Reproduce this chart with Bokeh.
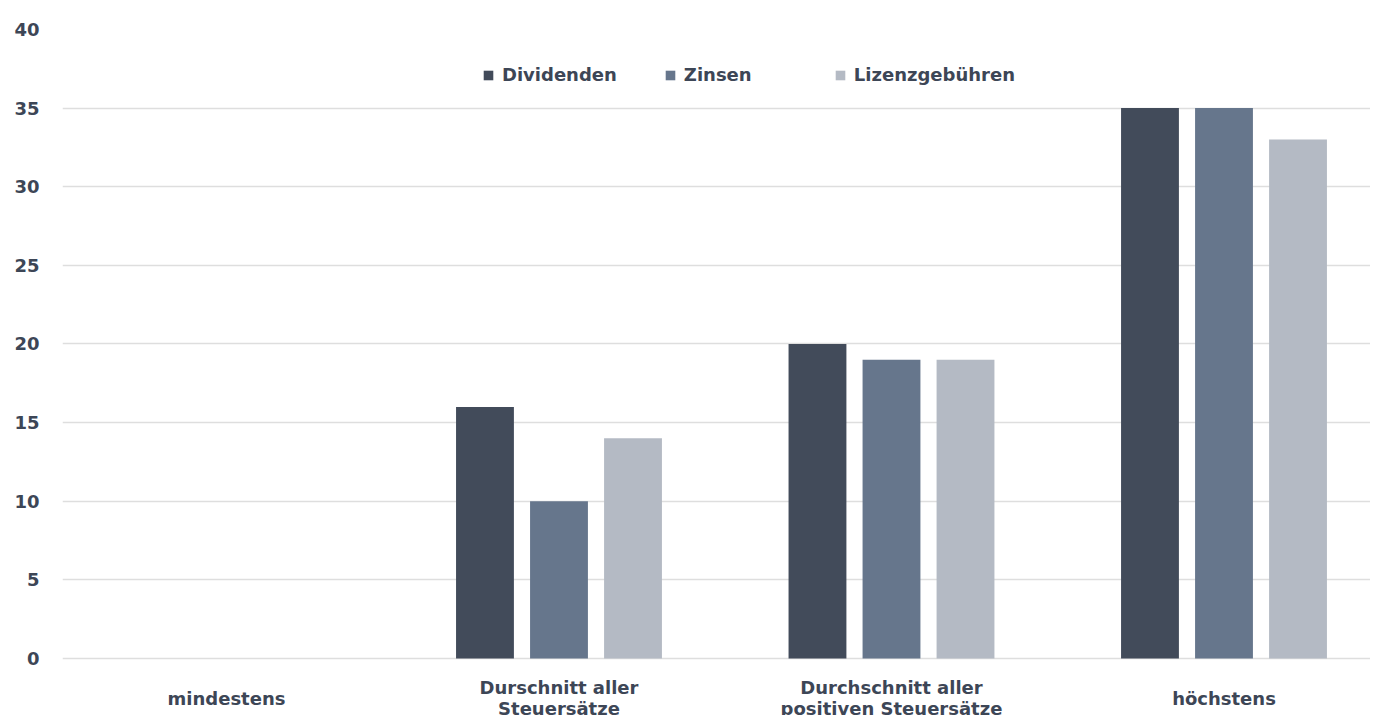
from bokeh.plotting import figure
from bokeh.models import ColumnDataSource, Range1d, Legend, LegendItem, FixedTicker
from bokeh.transform import dodge
from bokeh.core.properties import value
from bokeh.embed import file_html
from bokeh.resources import INLINE

categories = ["mindestens", "Durschnitt aller\nSteuersätze",
              "Durchschnitt aller\npositiven Steuersätze", "höchstens"]
dividenden = [0, 16, 20, 35]
zinsen = [0, 10, 19, 35]
lizenz = [0, 14, 19, 33]
series_names = ["Dividenden", "Zinsen", "Lizenzgebühren"]
y_ticks = [0, 5, 10, 15, 20, 25, 30, 35, 40]

colors = ["#424B5A", "#66768C", "#B4BAC4"]
text_color = "#3D4656"
FONT = "DejaVu Sans"
FS = "18px"

xs = list(range(len(categories)))
src = ColumnDataSource(dict(x=xs, d=dividenden, z=zinsen, l=lizenz))
label_y = -2.54  # category label row, in value units below the baseline
lab_src = ColumnDataSource(dict(x=xs, y=[label_y] * len(xs), t=categories))

p = figure(width=1370, height=715, output_backend="svg", toolbar_location=None,
           x_range=Range1d(-0.4932, 3.4406), y_range=Range1d(-3.625, 40),
           x_axis_location=None,
           min_border_left=62, min_border_right=0, min_border_top=29, min_border_bottom=0)
p.outline_line_color = None
p.background_fill_color = "white"
p.border_fill_color = "white"

bw = 0.174
off = 0.2226
r1 = p.vbar(x=dodge("x", -off), top="d", bottom=0, width=bw, source=src, color=colors[0], line_color=None)
r2 = p.vbar(x=dodge("x", 0), top="z", bottom=0, width=bw, source=src, color=colors[1], line_color=None)
r3 = p.vbar(x=dodge("x", off), top="l", bottom=0, width=bw, source=src, color=colors[2], line_color=None)

# category labels (below baseline)
p.text(x="x", y="y", text="t", source=lab_src, text_align="center", text_baseline="middle",
       text_font=value(FONT), text_font_style="bold", text_font_size=FS,
       text_color=text_color, text_line_height=1.0)

p.xgrid.visible = False

yax = p.yaxis[0]
yax.ticker = FixedTicker(ticks=y_ticks)
yax.axis_line_color = None
yax.major_tick_line_color = None
yax.minor_tick_line_color = None
yax.major_label_standoff = 17
yax.major_label_text_font = FONT
yax.major_label_text_font_style = "bold"
yax.major_label_text_font_size = FS
yax.major_label_text_color = text_color
p.ygrid.ticker = FixedTicker(ticks=y_ticks)
p.ygrid.grid_line_color = "#DEDEDE"
p.ygrid.grid_line_width = 1.5

legend = Legend(items=[LegendItem(label=series_names[0], renderers=[r1]),
                       LegendItem(label=series_names[1], renderers=[r2]),
                       LegendItem(label=series_names[2], renderers=[r3])],
                orientation="horizontal", location=(420, 630),
                glyph_width=12, glyph_height=12, label_standoff=8, spacing=47,
                label_width=103,
                label_text_font=FONT, label_text_font_style="bold", label_text_font_size=FS,
                label_text_color=text_color, background_fill_alpha=0, border_line_color=None,
                padding=0, margin=0)
p.add_layout(legend)

open("out.html", "w").write(file_html(p, INLINE))
